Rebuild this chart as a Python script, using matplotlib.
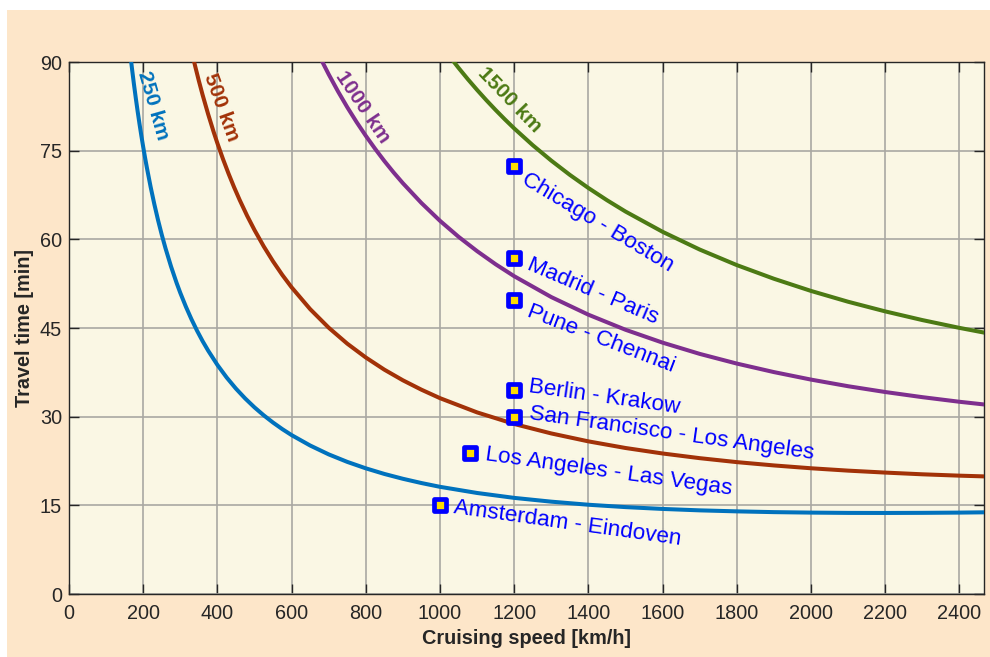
import matplotlib
matplotlib.use("Agg")
import matplotlib.pyplot as plt
from matplotlib.patches import Rectangle
from matplotlib.markers import MarkerStyle

plt.rcParams['font.family'] = ['Liberation Sans', 'DejaVu Sans']

# ---------------- data ----------------
speed_250 = [160, 165, 170, 175, 180, 185, 190, 195, 200, 205, 210, 220, 230, 240, 250, 260, 275,
             290, 300, 315, 330, 345, 360, 375, 400, 425, 450, 475, 500, 525, 550, 575, 600, 650,
             700, 750, 800, 850, 900, 950, 1000, 1100, 1200, 1300, 1400, 1500, 1600, 1700, 1800,
             1900, 2000, 2100, 2200, 2300, 2400, 2470]
time_250 = [94.25, 91.43, 88.77, 86.26, 83.90, 81.66, 79.54, 77.53, 75.63, 73.81, 72.09, 68.87,
            65.94, 63.25, 60.78, 58.51, 55.41, 52.63, 50.94, 48.61, 46.49, 44.56, 42.79, 41.18,
            38.75, 36.62, 34.74, 33.07, 31.57, 30.22, 29.00, 27.89, 26.88, 25.12, 23.62, 22.35,
            21.26, 20.31, 19.49, 18.77, 18.13, 17.09, 16.26, 15.62, 15.10, 14.70, 14.39, 14.15,
            13.98, 13.85, 13.77, 13.72, 13.71, 13.73, 13.77, 13.82]

speed_500 = [330, 340, 350, 360, 375, 390, 400, 415, 430, 445, 460, 480, 500, 525, 550, 575, 600,
             650, 700, 750, 800, 850, 900, 950, 1000, 1100, 1200, 1300, 1400, 1500, 1600, 1700,
             1800, 1900, 2000, 2100, 2200, 2300, 2400, 2470]
time_500 = [91.94, 89.31, 86.81, 84.46, 81.18, 78.14, 76.25, 73.59, 71.12, 68.81, 66.66, 64.00,
            61.57, 58.79, 56.27, 53.97, 51.88, 48.19, 45.05, 42.35, 40.01, 37.95, 36.15, 34.56,
            33.13, 30.72, 28.76, 27.16, 25.82, 24.70, 23.77, 22.98, 22.31, 21.75, 21.27, 20.87,
            20.54, 20.25, 20.02, 19.89]

speed_1000 = [660, 680, 700, 725, 750, 775, 800, 825, 850, 875, 900, 950, 1000, 1050, 1100, 1150,
              1200, 1300, 1400, 1500, 1600, 1700, 1800, 1900, 2000, 2100, 2200, 2300, 2400, 2470]
time_1000 = [92.98, 90.37, 87.91, 85.03, 82.35, 79.85, 77.51, 75.32, 73.25, 71.31, 69.49, 66.14,
             63.13, 60.43, 58.00, 55.78, 53.76, 50.23, 47.25, 44.70, 42.52, 40.62, 38.98, 37.54,
             36.27, 35.15, 34.17, 33.30, 32.52, 32.04]

speed_1500 = [1000, 1025, 1050, 1075, 1100, 1125, 1150, 1175, 1200, 1250, 1300, 1350, 1400, 1450,
              1500, 1600, 1700, 1800, 1900, 2000, 2100, 2200, 2300, 2400, 2470]
time_1500 = [93.13, 91.01, 89.00, 87.09, 85.27, 83.53, 81.87, 80.28, 78.76, 75.92, 73.31, 70.90,
             68.68, 66.62, 64.70, 61.27, 58.27, 55.64, 53.33, 51.27, 49.44, 47.81, 46.34, 45.02,
             44.18]

curve_labels = ["250 km", "500 km", "1000 km", "1500 km"]
curve_colors = ["#0072BD", "#A23208", "#7E2F8E", "#4C7A14"]

routes = ["Chicago - Boston", "Madrid - Paris", "Pune - Chennai", "Berlin - Krakow",
          "San Francisco - Los Angeles", "Los Angeles - Las Vegas", "Amsterdam - Eindoven"]
route_speed = [1200, 1200, 1200, 1200, 1200, 1080, 1000]
route_time = [72.4, 56.9, 49.7, 34.5, 30.0, 23.9, 15.0]

xticks = list(range(0, 2401, 200))
yticks = [0, 15, 30, 45, 60, 75, 90]

# ---------------- styling ----------------
W, H = 990, 657
fig = plt.figure(figsize=(W / 100, H / 100), dpi=100, facecolor="white")
fig.patches.append(Rectangle((7 / W, 0), 1 - 7 / W, 1 - 10 / H, transform=fig.transFigure,
                             facecolor="#FDE6C9", edgecolor="none", zorder=-10))

ax = fig.add_axes([69 / W, (H - 594) / H, (984.3 - 69) / W, (594 - 62) / H])
ax.set_facecolor("#FAF7E4")
ax.set_xlim(0, 2467)
ax.set_ylim(0, 90)
ax.set_xticks(xticks)
ax.set_yticks(yticks)
ax.grid(True, color="#A9A8A2", linewidth=1.2)
ax.set_axisbelow(True)
for s in ax.spines.values():
    s.set_color("#262626")
    s.set_linewidth(1.0)
ax.tick_params(direction="in", length=7.2, width=1.0, color="#262626", top=True, right=True,
               labelsize=14.3, labelcolor="#262626")
ax.tick_params(axis="x", pad=7)
ax.tick_params(axis="y", pad=5)

series = [(speed_250, time_250), (speed_500, time_500), (speed_1000, time_1000), (speed_1500, time_1500)]
for (sp, tm), c in zip(series, curve_colors):
    ax.plot(sp, tm, color=c, linewidth=2.9, solid_capstyle="butt", solid_joinstyle="round", zorder=3)

# curve labels
label_pos = [(226, 82.7, -74), (411, 82.4, -70), (792, 82.4, -56), (1188, 83.6, -46)]
for lab, c, (x, y, r) in zip(curve_labels, curve_colors, label_pos):
    ax.text(x, y, lab, color=c, fontsize=15, fontweight="bold", rotation=r,
            rotation_mode="anchor", ha="center", va="center", zorder=4)

# route markers and labels
ax.plot(route_speed, route_time, linestyle="none", marker=MarkerStyle("s", joinstyle="round"),
        markersize=8.0, markerfacecolor="#FFDD00", markeredgecolor="#0000FF",
        markeredgewidth=3.4, zorder=5)
label_off = [(6.8, -8.6, -31), (9.7, -4.7, -23), (10.0, -7.9, -21), (10.8, 2.2, -8),
             (10.8, 2.2, -8), (11.3, -1.7, -8), (9.6, -1.9, -8)]
for name, x, y, (dx, dy, r) in zip(routes, route_speed, route_time, label_off):
    ax.annotate(name, (x, y), xytext=(dx, dy), textcoords="offset points", color="#0000FF",
                fontsize=16.2, rotation=r, rotation_mode="anchor", ha="left", va="center", zorder=6)

fig.text(526.5 / W, (H - 638) / H, "Cruising speed [km/h]", ha="center", va="center",
         fontsize=14.3, fontweight="bold", color="#262626")
fig.text(25 / W, (H - 328) / H, "Travel time [min]", ha="center", va="center", rotation=90,
         fontsize=14.3, fontweight="bold", color="#262626")

fig.savefig("out.png", dpi=100, facecolor=fig.get_facecolor())
